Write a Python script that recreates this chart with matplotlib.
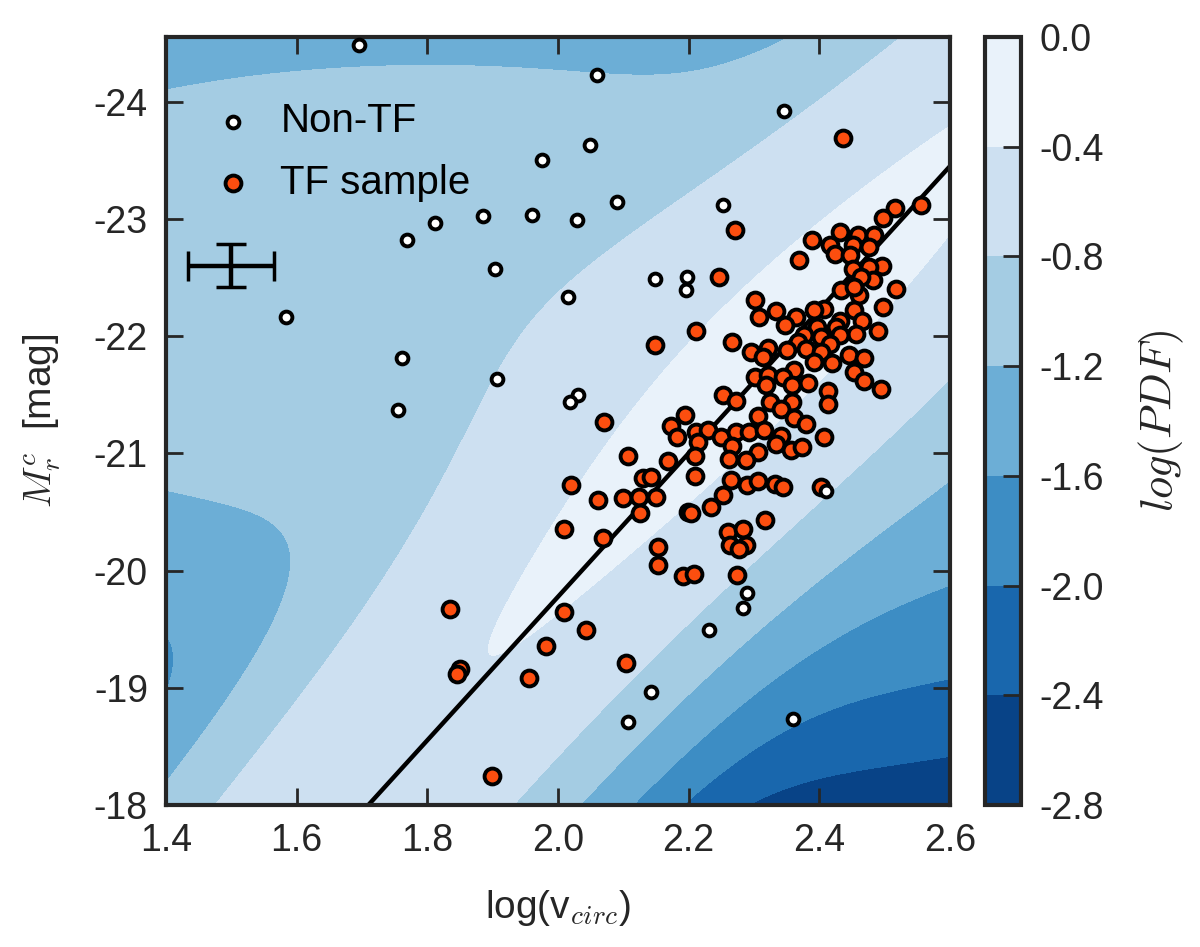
import numpy as np
import matplotlib
matplotlib.use("Agg")
import matplotlib.pyplot as plt

plt.rcParams['font.family'] = ['Liberation Sans', 'DejaVu Sans']
plt.rcParams['mathtext.fontset'] = 'cm'
plt.rcParams['axes.unicode_minus'] = False

# TF sample: log(v_circ) and M_r^c
tf_logv = [2.436, 2.516, 2.497, 2.556, 2.271, 2.247, 2.431, 2.389, 2.459, 2.484,
           2.416, 2.451, 2.476, 2.424, 2.447, 2.369, 2.496, 2.451, 2.476, 2.483,
           2.464, 2.433, 2.461, 2.453, 2.518, 2.302, 2.498, 2.408, 2.392, 2.453,
           2.334, 2.308, 2.364, 2.466, 2.431, 2.348, 2.396, 2.426, 2.490, 2.456,
           2.431, 2.377, 2.403, 2.367, 2.416, 2.380, 2.350, 2.321, 2.296, 2.314,
           2.403, 2.446, 2.469, 2.362, 2.392, 2.420, 2.453, 2.301, 2.322, 2.344,
           2.469, 2.382, 2.318, 2.359, 2.494, 2.267, 2.211, 2.149, 2.071, 2.253,
           2.273, 2.413, 2.413, 2.325, 2.358, 2.341, 2.306, 2.362, 2.380, 2.194,
           2.173, 2.182, 2.211, 2.229, 2.250, 2.273, 2.292, 2.316, 2.341, 2.334,
           2.357, 2.408, 2.214, 2.267, 2.306, 2.210, 2.262, 2.288, 2.108, 2.168,
           2.130, 2.143, 2.210, 2.265, 2.290, 2.306, 2.333, 2.344, 2.253, 2.099,
           2.124, 2.150, 2.126, 2.199, 2.204, 2.234, 2.317, 2.260, 2.283, 2.263,
           2.288, 2.277, 2.069, 2.153, 2.403, 2.020, 2.061, 2.010, 2.153, 2.191,
           2.209, 2.274, 2.010, 2.043, 2.104, 1.835, 1.981, 1.850, 1.846, 1.955,
           1.899, 2.373]
tf_mag = [-23.69, -23.09, -23.01, -23.12, -22.90, -22.50, -22.89, -22.82, -22.86, -22.86,
          -22.78, -22.78, -22.76, -22.70, -22.69, -22.65, -22.60, -22.57, -22.59, -22.48,
          -22.50, -22.39, -22.35, -22.42, -22.40, -22.31, -22.25, -22.23, -22.22, -22.22,
          -22.21, -22.16, -22.16, -22.13, -22.13, -22.09, -22.08, -22.08, -22.04, -22.02,
          -22.01, -22.01, -21.99, -21.95, -21.93, -21.89, -21.88, -21.90, -21.86, -21.82,
          -21.86, -21.84, -21.81, -21.71, -21.78, -21.77, -21.69, -21.65, -21.67, -21.65,
          -21.62, -21.60, -21.58, -21.58, -21.55, -21.95, -22.04, -21.92, -21.27, -21.50,
          -21.45, -21.53, -21.42, -21.44, -21.44, -21.38, -21.32, -21.30, -21.25, -21.33,
          -21.23, -21.14, -21.18, -21.20, -21.14, -21.18, -21.18, -21.20, -21.15, -21.08,
          -21.03, -21.14, -21.10, -21.06, -21.01, -20.98, -20.95, -20.94, -20.98, -20.93,
          -20.79, -20.80, -20.81, -20.77, -20.73, -20.76, -20.74, -20.71, -20.64, -20.62,
          -20.63, -20.63, -20.49, -20.50, -20.49, -20.54, -20.43, -20.33, -20.35, -20.22,
          -20.22, -20.18, -20.28, -20.20, -20.71, -20.73, -20.60, -20.35, -20.05, -19.95,
          -19.97, -19.96, -19.65, -19.49, -19.21, -19.67, -19.36, -19.16, -19.12, -19.08,
          -18.25, -21.05]

# Non-TF galaxies
non_logv = [1.695, 1.975, 1.812, 1.885, 1.961, 2.029, 1.769, 1.903, 1.583, 2.015,
            1.761, 1.907, 1.755, 2.030, 2.019, 2.060, 2.346, 2.049, 2.090, 2.252,
            2.149, 2.198, 2.196, 2.410, 2.289, 2.284, 2.231, 2.142, 2.107, 2.360]
non_mag = [-24.48, -23.50, -22.96, -23.02, -23.03, -22.99, -22.82, -22.57, -22.16, -22.33,
           -21.81, -21.63, -21.37, -21.50, -21.44, -24.23, -23.92, -23.63, -23.14, -23.12,
           -22.49, -22.50, -22.39, -20.68, -19.81, -19.68, -19.49, -18.96, -18.71, -18.73]

# TF relation: M = tf_zero + tf_slope * (logv - 2.2)
tf_slope = -6.12
tf_zero = -21.0

# typical error
err_logv, err_mag = 1.5, -22.6
err_x, err_y = 0.066, 0.185

pdf_levels = [-2.8, -2.4, -2.0, -1.6, -1.2, -0.8, -0.4, 0.0]

# log(PDF) surface: ridge along the relation + broad outlier component
# (parameters fitted to the contour lines)
ridge_coef = [-21.121, -5.947, 0.586]
ridge_sigma, ridge_sigma_slope = 1.085, -0.090
ridge_weight = 1.124
ridge_along = [-0.009, -0.128]
broad_weight = 0.384
broad_center = [1.827, -22.370]
broad_sigma = [0.746, 1.611]
broad_rho = 0.025
pdf_offset = -0.470


def log_pdf(logv, mag):
    u = logv - 2.2
    d = mag - (ridge_coef[0] + ridge_coef[1] * u + ridge_coef[2] * u * u)
    sig = ridge_sigma * np.exp(ridge_sigma_slope * u)
    ridge = ridge_weight * np.exp(-0.5 * (d / sig) ** 2 + ridge_along[0] * u + ridge_along[1] * u * u)
    dx = (logv - broad_center[0]) / broad_sigma[0]
    dy = (mag - broad_center[1]) / broad_sigma[1]
    q = (dx * dx - 2 * broad_rho * dx * dy + dy * dy) / (1 - broad_rho ** 2)
    broad = broad_weight * np.exp(-0.5 * q)
    return np.log10(ridge + broad) + pdf_offset


fig = plt.figure(figsize=(12, 9.47), dpi=100)
ax = fig.add_axes([0.1383, 0.1499, 0.6533, 0.8110])
cax = fig.add_axes([0.8208, 0.1499, 0.0300, 0.8110])

xx, yy = np.meshgrid(np.linspace(1.4, 2.6, 400), np.linspace(-24.55, -18.0, 400))
cs = ax.contourf(xx, yy, log_pdf(xx, yy), levels=pdf_levels, cmap='Blues_r',
                 vmin=-2.8, vmax=0.0, zorder=0)

lv = np.linspace(1.4, 2.6, 50)
ax.plot(lv, tf_zero + tf_slope * (lv - 2.2), color='black', lw=3.2, zorder=2)
ax.scatter(tf_logv, tf_mag, s=130, c='#fc4e0f', edgecolors='black', linewidths=2.8,
           zorder=3, label='TF sample')
ax.scatter(non_logv, non_mag, s=72, c='white', edgecolors='black', linewidths=2.8,
           zorder=4, label='Non-TF')
ax.errorbar([err_logv], [err_mag], xerr=[err_x], yerr=[err_y], fmt='none', ecolor='black',
            elinewidth=3.2, capsize=11, capthick=2.5, zorder=5)

ax.set_xlim(1.4, 2.6)
ax.set_ylim(-18.0, -24.55)
ax.set_xticks([1.4, 1.6, 1.8, 2.0, 2.2, 2.4, 2.6])
ax.set_xticklabels(['1.4', '1.6', '1.8', '2.0', '2.2', '2.4', '2.6'])
ax.set_yticks([-24, -23, -22, -21, -20, -19, -18])
ax.set_yticklabels(['-24', '-23', '-22', '-21', '-20', '-19', '-18'])
ax.tick_params(direction='in', length=12, width=2, labelsize=27, colors='#262626',
               top=True, right=True, pad=13)
for sp in ax.spines.values():
    sp.set_linewidth(3)
    sp.set_color('#262626')
ax.set_xlabel('log(v$_{circ}$)', fontsize=28, color='#262626', labelpad=21)
ax.set_ylabel('$M_r^c$  [mag]', fontsize=28, color='#262626', labelpad=22)

h, l = ax.get_legend_handles_labels()
ax.legend(h[::-1], l[::-1], loc='upper left', bbox_to_anchor=(0.0596, 0.915), frameon=False,
          fontsize=29, handlelength=1.0, handletextpad=0.68, labelspacing=0.58,
          borderpad=0, borderaxespad=0, scatterpoints=1)

cb = fig.colorbar(cs, cax=cax, ticks=pdf_levels)
cb.ax.set_yticklabels(['%.1f' % v for v in pdf_levels])
cb.ax.tick_params(direction='in', length=13, width=2, labelsize=27, colors='#262626', pad=13)
cb.outline.set_linewidth(3)
cb.outline.set_edgecolor('#262626')
cb.set_label('$log(PDF)$', fontsize=32, color='#262626', labelpad=24)

fig.savefig('out.png', dpi=100)
